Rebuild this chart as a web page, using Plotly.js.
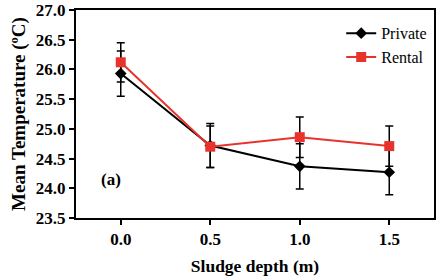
<!DOCTYPE html>
<html><head><meta charset="utf-8">
<script src="https://cdn.plot.ly/plotly-3.0.1.min.js"></script>
<style>body{margin:0;padding:0;background:#fff}#chart{width:439px;height:276px}</style>
</head><body><div id="chart"></div>
<script>
const depth = [0.0, 0.5, 1.0, 1.5];
const privateTemp = [25.93, 24.72, 24.37, 24.27];
const privateErr = [0.38, 0.37, 0.38, 0.38];
const rentalTemp = [26.12, 24.70, 24.86, 24.71];
const rentalErr = [0.33, 0.35, 0.34, 0.34];
const xTicks = [0.0, 0.5, 1.0, 1.5];
const xTickLabels = ['0.0', '0.5', '1.0', '1.5'];
const yTicks = [23.5, 24.0, 24.5, 25.0, 25.5, 26.0, 26.5, 27.0];
const yTickLabels = ['23.5', '24.0', '24.5', '25.0', '25.5', '26.0', '26.5', '27.0'];

const serif = 'Liberation Serif';
const traces = [
  {x: depth, y: privateTemp, name: 'Private', mode: 'lines+markers', type: 'scatter',
   line: {color: '#000000', width: 2},
   marker: {symbol: 'diamond', size: 9, color: '#000000'},
   error_y: {type: 'data', array: privateErr, visible: true, color: '#000000', thickness: 1.5, width: 4}},
  {x: depth, y: rentalTemp, name: 'Rental', mode: 'lines+markers', type: 'scatter',
   line: {color: '#e8332c', width: 2},
   marker: {symbol: 'square', size: 10, color: '#e8332c'},
   error_y: {type: 'data', array: rentalErr, visible: true, color: '#000000', thickness: 1.5, width: 4}}
];
const layout = {
  width: 439, height: 276,
  margin: {l: 76, r: 5, t: 10, b: 58},
  paper_bgcolor: '#fff', plot_bgcolor: '#fff',
  font: {family: serif, color: '#000'},
  showlegend: true,
  legend: {x: 0.995, y: 0.97, xanchor: 'right', yanchor: 'top', bgcolor: 'rgba(0,0,0,0)',
           font: {family: serif, size: 16, color: '#000'}, tracegroupgap: 14, itemwidth: 30},
  xaxis: {range: [-0.25, 1.75], tickvals: xTicks, ticktext: xTickLabels,
          showgrid: false, zeroline: false, showline: true, linecolor: '#000', linewidth: 2,
          mirror: true, ticks: 'outside', ticklen: 5, tickwidth: 2, tickcolor: '#000',
          tickfont: {family: serif, size: 17, color: '#000', weight: 'bold'},
          title: {text: '<b>Sludge depth (m)</b>', font: {family: serif, size: 17.5, color: '#000'}, standoff: 12}},
  yaxis: {range: [23.5, 27.0], tickvals: yTicks, ticktext: yTickLabels,
          showgrid: false, zeroline: false, showline: true, linecolor: '#000', linewidth: 2,
          mirror: true, ticks: 'outside', ticklen: 5, tickwidth: 2, tickcolor: '#000',
          tickfont: {family: serif, size: 17, color: '#000', weight: 'bold'},
          title: {text: '<b>Mean Temperature (ºC)</b>', font: {family: serif, size: 19, color: '#000'}, standoff: 5}},
  annotations: [{x: 0.0, y: 24.15, xref: 'x', yref: 'y', text: '<b>(a)</b>', showarrow: false,
                 xanchor: 'center', yanchor: 'middle', xshift: -10, font: {family: serif, size: 17, color: '#000'}}]
};
Plotly.newPlot('chart', traces, layout, {displayModeBar: false, staticPlot: true});
</script></body></html>
